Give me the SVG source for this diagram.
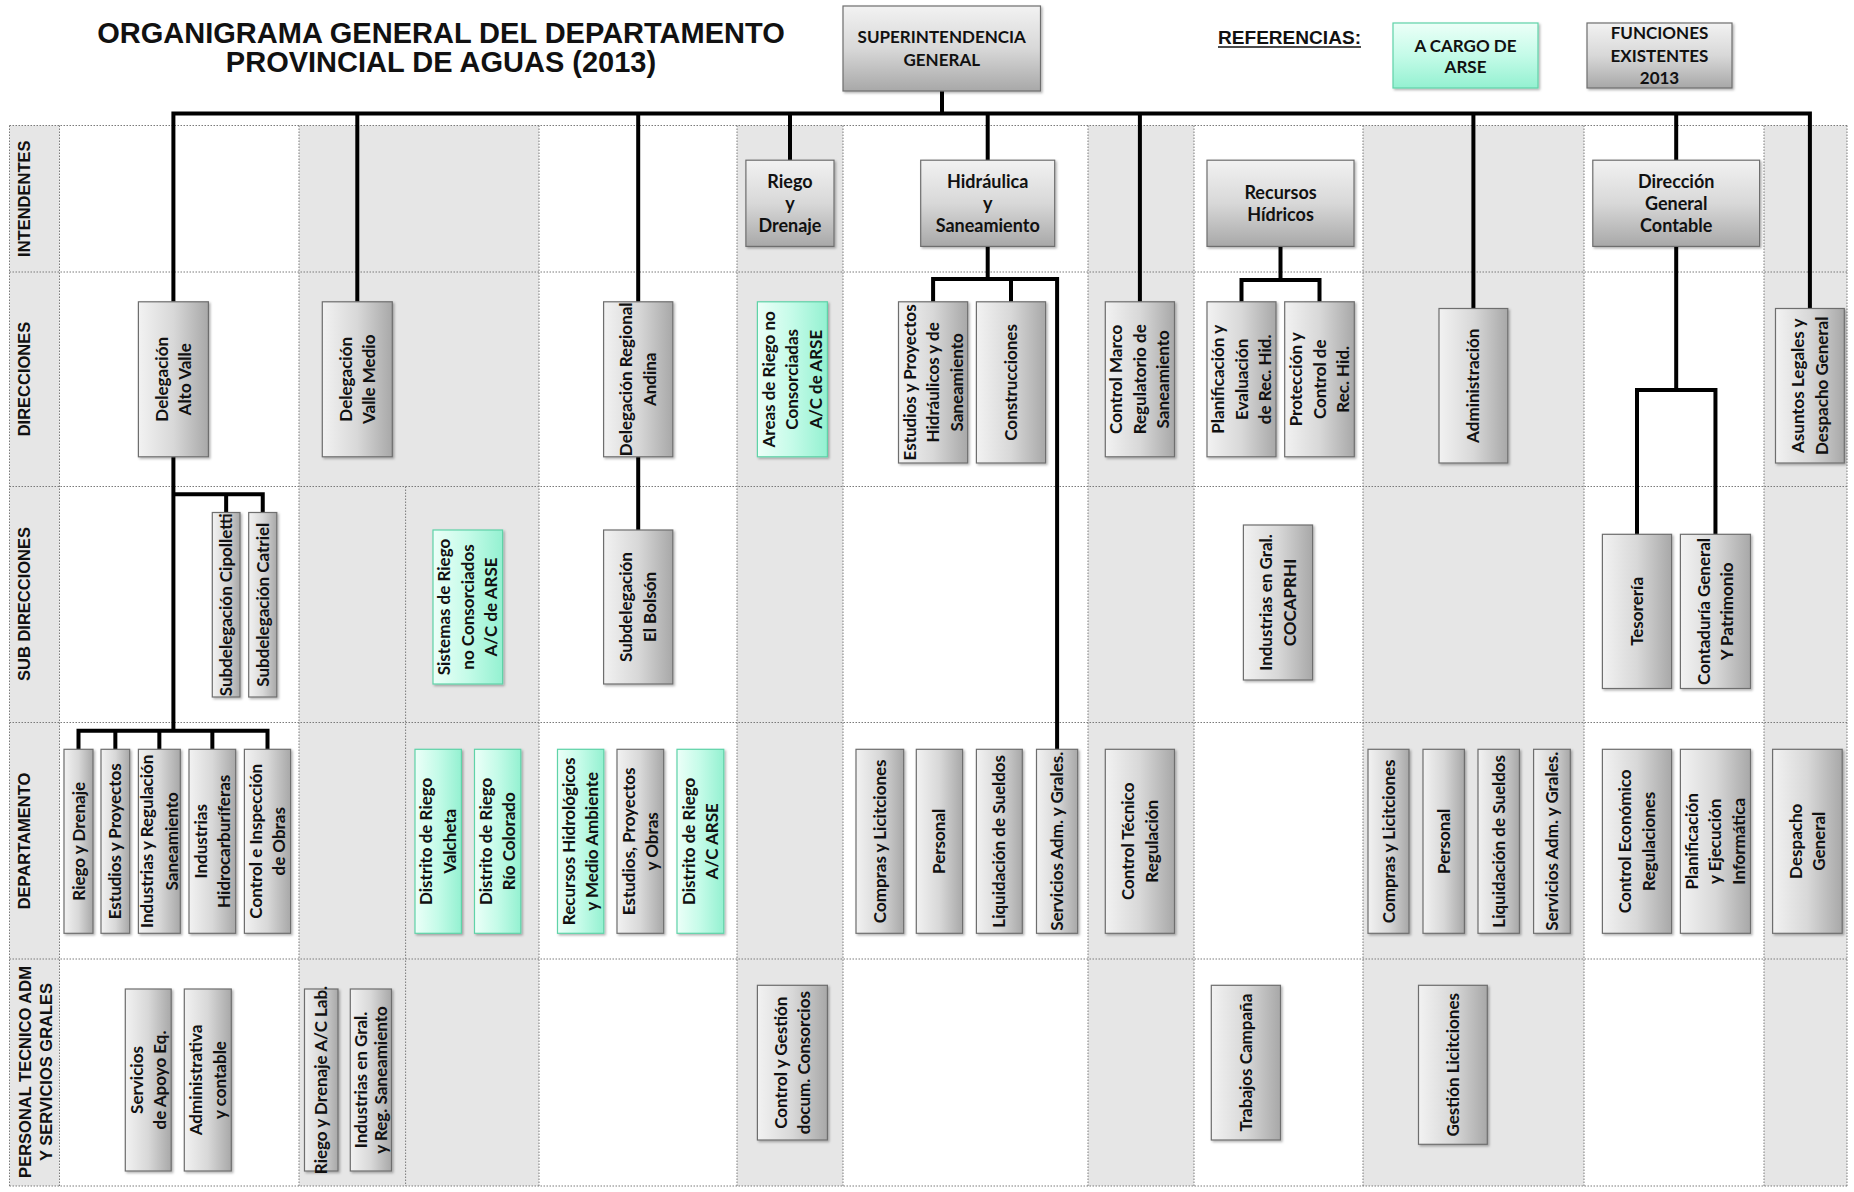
<svg xmlns="http://www.w3.org/2000/svg" width="1854" height="1192" viewBox="0 0 1854 1192">
<defs>
<linearGradient id="gG" x1="0" y1="0" x2="1" y2="0"><stop offset="0" stop-color="#f2f2f2"/><stop offset="0.5" stop-color="#d8d8d8"/><stop offset="1" stop-color="#a8a8a8"/></linearGradient>
<linearGradient id="gGv" x1="0" y1="0" x2="0" y2="1"><stop offset="0" stop-color="#f2f2f2"/><stop offset="0.5" stop-color="#d8d8d8"/><stop offset="1" stop-color="#a8a8a8"/></linearGradient>
<linearGradient id="gM" x1="0" y1="0" x2="1" y2="0"><stop offset="0" stop-color="#ecfff8"/><stop offset="0.5" stop-color="#c4fbe8"/><stop offset="1" stop-color="#94f1d1"/></linearGradient>
<linearGradient id="gMv" x1="0" y1="0" x2="0" y2="1"><stop offset="0" stop-color="#ecfff8"/><stop offset="0.5" stop-color="#c4fbe8"/><stop offset="1" stop-color="#94f1d1"/></linearGradient>
<filter id="sh" x="-20%" y="-20%" width="150%" height="150%"><feDropShadow dx="1.5" dy="1.5" stdDeviation="1" flood-color="#000" flood-opacity="0.3"/></filter>
</defs>
<style>
.g{fill:url(#gG);stroke:#6e6e6e;stroke-width:1.2;filter:url(#sh)}
.gv{fill:url(#gGv);stroke:#6e6e6e;stroke-width:1.2;filter:url(#sh)}
.m{fill:url(#gM);stroke:#5fd3a8;stroke-width:1.2;filter:url(#sh)}
.mv{fill:url(#gMv);stroke:#5fd3a8;stroke-width:1.2;filter:url(#sh)}
.bt{font-family:Lato,"Liberation Sans",sans-serif;font-weight:700;font-size:17px;fill:#111;text-anchor:middle}
.ht{font-family:Lato,"Liberation Sans",sans-serif;font-weight:700;font-size:18px;fill:#111;text-anchor:middle}
.lt{font-family:Lato,"Liberation Sans",sans-serif;font-weight:700;font-size:17px;fill:#111;text-anchor:middle}
.rl{font-family:"Liberation Sans",Arial,sans-serif;font-weight:700;font-size:16.5px;fill:#111;text-anchor:middle}
.title{font-family:"Liberation Sans",Arial,sans-serif;font-weight:700;font-size:29px;fill:#111;text-anchor:middle}
.shade{fill:#e6e6e6}
.grid{stroke:#7a7a7a;stroke-width:1;stroke-dasharray:1.5 1.5;fill:none}
.con{stroke:#000;stroke-width:4;fill:none;stroke-linejoin:miter}
</style>
<rect x="0" y="0" width="1854" height="1192" fill="#fff"/>
<!-- grid -->
<g id="grid">
<rect class="shade" x="9.5" y="125.5" width="50" height="1060.5"/>
<rect class="shade" x="299" y="125.5" width="240" height="1060.5"/>
<rect class="shade" x="737" y="125.5" width="106" height="1060.5"/>
<rect class="shade" x="1088" y="125.5" width="106" height="1060.5"/>
<rect class="shade" x="1363" y="125.5" width="221" height="1060.5"/>
<rect class="shade" x="1764" y="125.5" width="83" height="1060.5"/>
<path class="grid" d="M9.5,125.5H1847M9.5,272H1847M9.5,486.5H1847M9.5,722.5H1847M9.5,959H1847M9.5,1186H1847"/>
<path class="grid" d="M9.5,125.5V1186M59.5,125.5V1186M299,125.5V1186M539,125.5V1186M737,125.5V1186M843,125.5V1186M1088,125.5V1186M1194,125.5V1186M1363,125.5V1186M1584,125.5V1186M1764,125.5V1186M1847,125.5V1186M405.6,486.5V1186"/>
</g>
<!-- row labels -->
<g id="row-labels">
<text class="rl" transform="translate(30.4 198.7) rotate(-90)">INTENDENTES</text>
<text class="rl" transform="translate(30.4 379) rotate(-90)">DIRECCIONES</text>
<text class="rl" transform="translate(30.4 604) rotate(-90)">SUB DIRECCIONES</text>
<text class="rl" transform="translate(30.4 841) rotate(-90)">DEPARTAMENTO</text>
<text class="rl" transform="translate(31.4 1072) rotate(-90)"><tspan x="0" y="0">PERSONAL TECNICO ADM</tspan><tspan x="0" y="20.5">Y SERVICIOS GRALES</tspan></text>
</g>
<!-- title & legend -->
<g id="title">
<text class="title" x="441" y="42.5">ORGANIGRAMA GENERAL DEL DEPARTAMENTO</text>
<text class="title" x="441" y="71.5">PROVINCIAL DE AGUAS (2013)</text>
</g>
<g id="legend">
<text x="1218" y="43.5" font-family="Liberation Sans, Arial, sans-serif" font-weight="700" font-size="18" fill="#111" textLength="143" lengthAdjust="spacingAndGlyphs">REFERENCIAS:</text>
<line x1="1218" y1="47" x2="1361" y2="47" stroke="#111" stroke-width="1.5"/>
<g id="legend-arse"><rect class="mv" x="1393" y="23" width="145" height="65"/><text class="lt"><tspan x="1465.5" y="52.1">A CARGO DE</tspan><tspan x="1465.5" y="72.8">ARSE</tspan></text></g>
<g id="legend-existentes"><rect class="gv" x="1587" y="23" width="145" height="65"/><text class="lt"><tspan x="1659.5" y="39.4">FUNCIONES</tspan><tspan x="1659.5" y="62.1">EXISTENTES</tspan><tspan x="1659.5" y="84.4">2013</tspan></text></g>
</g>
<!-- connectors -->
<g id="connectors">
<path class="con" d="M942,91V113.5"/>
<path class="con" d="M173.4,301.8V113.5H1809.9V308.5"/>
<path class="con" d="M357.3,113.5V301.8"/>
<path class="con" d="M638.2,113.5V301.8"/>
<path class="con" d="M790,113.5V160.2"/>
<path class="con" d="M987.7,113.5V160.2"/>
<path class="con" d="M1139.9,113.5V301.8"/>
<path class="con" d="M1473.4,113.5V308.5"/>
<path class="con" d="M1676.2,113.5V160.2"/>
<path class="con" d="M173.4,456.8V730.7"/>
<path class="con" d="M173.4,494.3H262.75V512.5M226.15,494.3V512.5"/>
<path class="con" d="M78.5,749.3V730.7H267.5V749.3M115.35,730.7V749.3M159.35,730.7V749.3M212.35,730.7V749.3"/>
<path class="con" d="M638.2,456.8V530"/>
<path class="con" d="M987.7,246.4V279"/>
<path class="con" d="M933.1,301.8V279H1057.1V749.3M1011,279V301.8"/>
<path class="con" d="M1280.5,246.4V280"/>
<path class="con" d="M1241.5,301.8V280H1319.5V301.8"/>
<path class="con" d="M1676.2,246.4V390"/>
<path class="con" d="M1637,534.3V390H1715.45V534.3"/>
</g>
<!-- top -->
<g id="n_superintendencia"><rect class="gv" x="843" y="6" width="197.5" height="85"/><text class="lt" font-size="16.5"><tspan x="941.75" y="42.5">SUPERINTENDENCIA</tspan><tspan x="941.75" y="66.2">GENERAL</tspan></text></g>
<!-- intendentes -->
<g id="i_riego"><rect class="gv" x="745.9" y="160.2" width="88.1" height="86.2"/><text class="ht" transform="translate(789.95 203.3)"><tspan x="0" y="-15.7">Riego</tspan><tspan x="0" y="6.3">y</tspan><tspan x="0" y="28.3">Drenaje</tspan></text></g>
<g id="i_hidraulica"><rect class="gv" x="920.7" y="160.2" width="134" height="86.2"/><text class="ht" transform="translate(987.7 203.3)"><tspan x="0" y="-15.7">Hidráulica</tspan><tspan x="0" y="6.3">y</tspan><tspan x="0" y="28.3">Saneamiento</tspan></text></g>
<g id="i_recursos"><rect class="gv" x="1207" y="160.2" width="147" height="86.2"/><text class="ht" transform="translate(1280.5 203.3)"><tspan x="0" y="-4.7">Recursos</tspan><tspan x="0" y="17.3">Hídricos</tspan></text></g>
<g id="i_contable"><rect class="gv" x="1592.8" y="160.2" width="166.8" height="86.2"/><text class="ht" transform="translate(1676.2 203.3)"><tspan x="0" y="-15.7">Dirección</tspan><tspan x="0" y="6.3">General</tspan><tspan x="0" y="28.3">Contable</tspan></text></g>
<!-- direcciones -->
<g id="n_alto_valle"><rect class="g" x="138.4" y="301.8" width="70" height="155"/><text class="bt" transform="translate(173.4 379.3) rotate(-90)"><tspan x="0" y="-5.75">Delegación</tspan><tspan x="0" y="17.75">Alto Valle</tspan></text></g>
<g id="n_valle_medio"><rect class="g" x="322.3" y="301.8" width="70" height="155"/><text class="bt" transform="translate(357.3 379.3) rotate(-90)"><tspan x="0" y="-5.75">Delegación</tspan><tspan x="0" y="17.75">Valle Medio</tspan></text></g>
<g id="n_andina"><rect class="g" x="603.6" y="301.8" width="69.2" height="155"/><text class="bt" transform="translate(638.2 379.3) rotate(-90)"><tspan x="0" y="-5.75">Delegación Regional</tspan><tspan x="0" y="17.75">Andina</tspan></text></g>
<g id="n_areas"><rect class="m" x="757.4" y="301.8" width="70" height="155"/><text class="bt" transform="translate(792.4 379.3) rotate(-90)"><tspan x="0" y="-17.5">Areas de Riego no</tspan><tspan x="0" y="6">Consorciadas</tspan><tspan x="0" y="29.5">A/C de ARSE</tspan></text></g>
<g id="n_estudios_hid"><rect class="g" x="898.5" y="301.8" width="69.2" height="161.2"/><text class="bt" transform="translate(933.1 382.4) rotate(-90)"><tspan x="0" y="-17.5">Estudios y Proyectos</tspan><tspan x="0" y="6">Hidráulicos y de</tspan><tspan x="0" y="29.5">Saneamiento</tspan></text></g>
<g id="n_construcciones"><rect class="g" x="976.4" y="301.8" width="69.2" height="161.2"/><text class="bt" transform="translate(1011 382.4) rotate(-90)"><tspan x="0" y="6">Construcciones</tspan></text></g>
<g id="n_control_marco"><rect class="g" x="1105.3" y="301.8" width="69.2" height="155"/><text class="bt" transform="translate(1139.9 379.3) rotate(-90)"><tspan x="0" y="-17.5">Control Marco</tspan><tspan x="0" y="6">Regulatorio de</tspan><tspan x="0" y="29.5">Saneamiento</tspan></text></g>
<g id="n_planificacion"><rect class="g" x="1207" y="301.8" width="69" height="155"/><text class="bt" transform="translate(1241.5 379.3) rotate(-90)"><tspan x="0" y="-17.5">Planificación y</tspan><tspan x="0" y="6">Evaluación</tspan><tspan x="0" y="29.5">de Rec. Hid.</tspan></text></g>
<g id="n_proteccion"><rect class="g" x="1284.7" y="301.8" width="69.6" height="155"/><text class="bt" transform="translate(1319.5 379.3) rotate(-90)"><tspan x="0" y="-17.5">Protección y</tspan><tspan x="0" y="6">Control de</tspan><tspan x="0" y="29.5">Rec. Hid.</tspan></text></g>
<g id="n_administracion"><rect class="g" x="1439" y="308.5" width="68.8" height="154.5"/><text class="bt" transform="translate(1473.4 385.75) rotate(-90)"><tspan x="0" y="6">Administración</tspan></text></g>
<g id="n_asuntos"><rect class="g" x="1775.5" y="308.5" width="68.8" height="154.5"/><text class="bt" transform="translate(1809.9 385.75) rotate(-90)"><tspan x="0" y="-5.75">Asuntos Legales y</tspan><tspan x="0" y="17.75">Despacho General</tspan></text></g>
<!-- sub direcciones -->
<g id="s_cipolletti"><rect class="g" x="212.3" y="512.5" width="27.7" height="184.5"/><text class="bt" transform="translate(226.15 604.75) rotate(-90)"><tspan x="0" y="6">Subdelegación Cipolletti</tspan></text></g>
<g id="s_catriel"><rect class="g" x="248.7" y="512.5" width="28.1" height="184.5"/><text class="bt" transform="translate(262.75 604.75) rotate(-90)"><tspan x="0" y="6">Subdelegación Catriel</tspan></text></g>
<g id="s_sistemas"><rect class="m" x="433" y="530" width="69.6" height="154"/><text class="bt" transform="translate(467.8 607) rotate(-90)"><tspan x="0" y="-17.5">Sistemas de Riego</tspan><tspan x="0" y="6">no Consorciados</tspan><tspan x="0" y="29.5">A/C de ARSE</tspan></text></g>
<g id="s_bolson"><rect class="g" x="603.6" y="530" width="69.2" height="154"/><text class="bt" transform="translate(638.2 607) rotate(-90)"><tspan x="0" y="-5.75">Subdelegación</tspan><tspan x="0" y="17.75">El Bolsón</tspan></text></g>
<g id="s_cocaprhi"><rect class="g" x="1243.4" y="525" width="69.2" height="155"/><text class="bt" transform="translate(1278 602.5) rotate(-90)"><tspan x="0" y="-5.75">Industrias en Gral.</tspan><tspan x="0" y="17.75">COCAPRHI</tspan></text></g>
<g id="s_tesoreria"><rect class="g" x="1602.4" y="534.3" width="69.2" height="154.2"/><text class="bt" transform="translate(1637 611.4) rotate(-90)"><tspan x="0" y="6">Tesorería</tspan></text></g>
<g id="s_contaduria"><rect class="g" x="1680.4" y="534.3" width="70.1" height="154.2"/><text class="bt" transform="translate(1715.45 611.4) rotate(-90)"><tspan x="0" y="-5.75">Contaduría General</tspan><tspan x="0" y="17.75">Y Patrimonio</tspan></text></g>
<!-- departamentos -->
<g id="d_riego"><rect class="g" x="64" y="749.3" width="29" height="184"/><text class="bt" transform="translate(78.5 841.3) rotate(-90)"><tspan x="0" y="6">Riego y Drenaje</tspan></text></g>
<g id="d_estudios"><rect class="g" x="101" y="749.3" width="28.7" height="184"/><text class="bt" transform="translate(115.35 841.3) rotate(-90)"><tspan x="0" y="6">Estudios y Proyectos</tspan></text></g>
<g id="d_ind_reg"><rect class="g" x="138.4" y="749.3" width="41.9" height="184"/><text class="bt" transform="translate(159.35 841.3) rotate(-90)"><tspan x="0" y="-6.5">Industrias y Regulación</tspan><tspan x="0" y="18.5">Saneamiento</tspan></text></g>
<g id="d_hidrocarb"><rect class="g" x="189" y="749.3" width="46.7" height="184"/><text class="bt" transform="translate(212.35 841.3) rotate(-90)"><tspan x="0" y="-5.75">Industrias</tspan><tspan x="0" y="17.75">Hidrocarburíferas</tspan></text></g>
<g id="d_control_insp"><rect class="g" x="244.4" y="749.3" width="46.2" height="184"/><text class="bt" transform="translate(267.5 841.3) rotate(-90)"><tspan x="0" y="-5.75">Control e Inspección</tspan><tspan x="0" y="17.75">de Obras</tspan></text></g>
<g id="d_valcheta"><rect class="m" x="415" y="749.3" width="46.4" height="184"/><text class="bt" transform="translate(438.2 841.3) rotate(-90)"><tspan x="0" y="-5.75">Distrito de Riego</tspan><tspan x="0" y="17.75">Valcheta</tspan></text></g>
<g id="d_rio_colorado"><rect class="m" x="474.5" y="749.3" width="46.3" height="184"/><text class="bt" transform="translate(497.65 841.3) rotate(-90)"><tspan x="0" y="-5.75">Distrito de Riego</tspan><tspan x="0" y="17.75">Río Colorado</tspan></text></g>
<g id="d_rec_hidrol"><rect class="m" x="557.5" y="749.3" width="46.3" height="184"/><text class="bt" transform="translate(580.65 841.3) rotate(-90)"><tspan x="0" y="-5.75">Recursos Hidrológicos</tspan><tspan x="0" y="17.75">y Medio Ambiente</tspan></text></g>
<g id="d_est_proy_obras"><rect class="g" x="617" y="749.3" width="46.7" height="184"/><text class="bt" transform="translate(640.35 841.3) rotate(-90)"><tspan x="0" y="-5.75">Estudios, Proyectos</tspan><tspan x="0" y="17.75">y Obras</tspan></text></g>
<g id="d_distrito_arse"><rect class="m" x="677" y="749.3" width="46.8" height="184"/><text class="bt" transform="translate(700.4 841.3) rotate(-90)"><tspan x="0" y="-5.75">Distrito de Riego</tspan><tspan x="0" y="17.75">A/C ARSE</tspan></text></g>
<g id="d_compras1"><rect class="g" x="856" y="749.3" width="47.7" height="184"/><text class="bt" transform="translate(879.85 841.3) rotate(-90)"><tspan x="0" y="6">Compras y Licitciones</tspan></text></g>
<g id="d_personal1"><rect class="g" x="916.3" y="749.3" width="46.3" height="184"/><text class="bt" transform="translate(939.45 841.3) rotate(-90)"><tspan x="0" y="6">Personal</tspan></text></g>
<g id="d_liquidacion1"><rect class="g" x="976.4" y="749.3" width="45.9" height="184"/><text class="bt" transform="translate(999.35 841.3) rotate(-90)"><tspan x="0" y="6">Liquidación de Sueldos</tspan></text></g>
<g id="d_servicios1"><rect class="g" x="1036.5" y="749.3" width="41.2" height="184"/><text class="bt" transform="translate(1057.1 841.3) rotate(-90)"><tspan x="0" y="6">Servicios Adm. y Grales.</tspan></text></g>
<g id="d_control_tec"><rect class="g" x="1105.3" y="749.3" width="69.2" height="184"/><text class="bt" transform="translate(1139.9 841.3) rotate(-90)"><tspan x="0" y="-5.75">Control Técnico</tspan><tspan x="0" y="17.75">Regulación</tspan></text></g>
<g id="d_compras2"><rect class="g" x="1368" y="749.3" width="41" height="184"/><text class="bt" transform="translate(1388.5 841.3) rotate(-90)"><tspan x="0" y="6">Compras y Licitciones</tspan></text></g>
<g id="d_personal2"><rect class="g" x="1423" y="749.3" width="41.4" height="184"/><text class="bt" transform="translate(1443.7 841.3) rotate(-90)"><tspan x="0" y="6">Personal</tspan></text></g>
<g id="d_liquidacion2"><rect class="g" x="1478" y="749.3" width="41.4" height="184"/><text class="bt" transform="translate(1498.7 841.3) rotate(-90)"><tspan x="0" y="6">Liquidación de Sueldos</tspan></text></g>
<g id="d_servicios2"><rect class="g" x="1533.6" y="749.3" width="36.7" height="184"/><text class="bt" transform="translate(1551.95 841.3) rotate(-90)"><tspan x="0" y="6">Servicios Adm. y Grales.</tspan></text></g>
<g id="d_control_econ"><rect class="g" x="1602.4" y="749.3" width="69.2" height="184"/><text class="bt" transform="translate(1637 841.3) rotate(-90)"><tspan x="0" y="-5.75">Control Económico</tspan><tspan x="0" y="17.75">Regulaciones</tspan></text></g>
<g id="d_plan_ejec"><rect class="g" x="1680.4" y="749.3" width="70.1" height="184"/><text class="bt" transform="translate(1715.45 841.3) rotate(-90)"><tspan x="0" y="-17.5">Planificación</tspan><tspan x="0" y="6">y Ejecución</tspan><tspan x="0" y="29.5">Informática</tspan></text></g>
<g id="d_despacho"><rect class="g" x="1772.6" y="749.3" width="69.6" height="184"/><text class="bt" transform="translate(1807.4 841.3) rotate(-90)"><tspan x="0" y="-5.75">Despacho</tspan><tspan x="0" y="17.75">General</tspan></text></g>
<!-- personal tecnico -->
<g id="p_servicios"><rect class="g" x="125.3" y="989" width="45.9" height="182"/><text class="bt" transform="translate(148.25 1080) rotate(-90)"><tspan x="0" y="-5.75">Servicios</tspan><tspan x="0" y="17.75">de Apoyo Eq.</tspan></text></g>
<g id="p_admin"><rect class="g" x="184.3" y="989" width="47" height="182"/><text class="bt" transform="translate(207.8 1080) rotate(-90)"><tspan x="0" y="-5.75">Administrativa</tspan><tspan x="0" y="17.75">y contable</tspan></text></g>
<g id="p_riego_lab"><rect class="g" x="304.5" y="989" width="33.5" height="182"/><text class="bt" transform="translate(321.25 1080) rotate(-90)"><tspan x="0" y="6">Riego y Drenaje A/C Lab.</tspan></text></g>
<g id="p_ind_gral"><rect class="g" x="350.3" y="989" width="41.2" height="182"/><text class="bt" transform="translate(370.9 1080) rotate(-90)"><tspan x="0" y="-4">Industrias en Gral.</tspan><tspan x="0" y="16">y Reg. Saneamiento</tspan></text></g>
<g id="p_control_gestion"><rect class="g" x="757.4" y="985.3" width="70" height="154.7"/><text class="bt" transform="translate(792.4 1062.65) rotate(-90)"><tspan x="0" y="-5.75">Control y Gestión</tspan><tspan x="0" y="17.75">docum. Consorcios</tspan></text></g>
<g id="p_trabajos"><rect class="g" x="1211.3" y="985.3" width="69.2" height="154.7"/><text class="bt" transform="translate(1245.9 1062.65) rotate(-90)"><tspan x="0" y="6">Trabajos Campaña</tspan></text></g>
<g id="p_gestion"><rect class="g" x="1418.5" y="985.3" width="68.8" height="159"/><text class="bt" transform="translate(1452.9 1064.8) rotate(-90)"><tspan x="0" y="6">Gestión Licitciones</tspan></text></g>
</svg>
